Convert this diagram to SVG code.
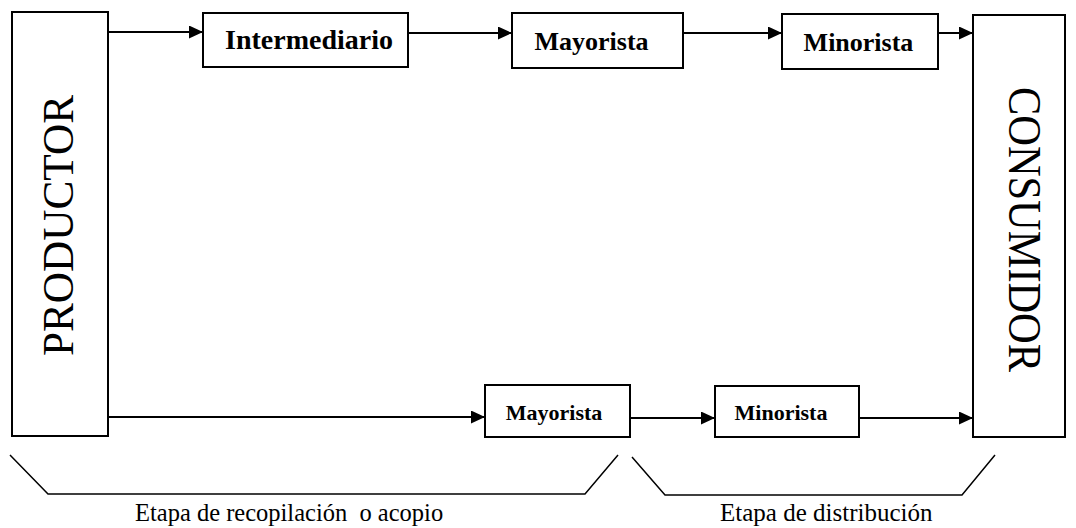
<svg xmlns="http://www.w3.org/2000/svg" width="1076" height="528" viewBox="0 0 1076 528">
<defs>
<style>
.box{fill:#fff;stroke:#000;stroke-width:2}
.lbl{font-weight:bold;fill:#000;text-anchor:middle}
.big{fill:#000;text-anchor:middle}
.cap{fill:#000}
.conn{stroke:#000;stroke-width:2;fill:none}
.brace{stroke:#000;stroke-width:1.5;fill:none}
</style>
<marker id="ah" markerUnits="userSpaceOnUse" markerWidth="15" markerHeight="13" refX="14" refY="6.5" orient="auto">
<path d="M0,0 L14,6.5 L0,13 z" fill="#000"/>
</marker>
</defs>
<rect width="1076" height="528" fill="#fff"/>
<g id="connectors">
<line class="conn" x1="108" y1="32" x2="203" y2="32" marker-end="url(#ah)"/>
<line class="conn" x1="408" y1="33" x2="512" y2="33" marker-end="url(#ah)"/>
<line class="conn" x1="683" y1="33" x2="782" y2="33" marker-end="url(#ah)"/>
<line class="conn" x1="938" y1="33" x2="973" y2="33" marker-end="url(#ah)"/>
<line class="conn" x1="108" y1="417" x2="485" y2="417" marker-end="url(#ah)"/>
<line class="conn" x1="630" y1="418" x2="715" y2="418" marker-end="url(#ah)"/>
<line class="conn" x1="859" y1="418" x2="973" y2="418" marker-end="url(#ah)"/>
</g>
<g font-family="Liberation Serif, Times New Roman, serif">
<g id="productor">
<rect class="box" x="12" y="12" width="96" height="424"/>
<text class="big" font-size="44" transform="translate(73,225.5) rotate(-90)" textLength="261" lengthAdjust="spacingAndGlyphs">PRODUCTOR</text>
</g>
<g id="intermediario">
<rect class="box" x="203" y="13" width="205" height="54"/>
<text class="lbl" font-size="28" x="309" y="49">Intermediario</text>
</g>
<g id="mayorista-top">
<rect class="box" x="512" y="13" width="171" height="55"/>
<text class="lbl" font-size="26" x="591.5" y="50">Mayorista</text>
</g>
<g id="minorista-top">
<rect class="box" x="782" y="14" width="156" height="55"/>
<text class="lbl" font-size="26" x="858.5" y="51">Minorista</text>
</g>
<g id="consumidor">
<rect class="box" x="973" y="15" width="92" height="422"/>
<text class="big" font-size="46" transform="translate(1009,229.5) rotate(90)" textLength="285" lengthAdjust="spacingAndGlyphs">CONSUMIDOR</text>
</g>
<g id="mayorista-bottom">
<rect class="box" x="485" y="385" width="145" height="52"/>
<text class="lbl" font-size="22" x="554" y="420">Mayorista</text>
</g>
<g id="minorista-bottom">
<rect class="box" x="715" y="386" width="144" height="51"/>
<text class="lbl" font-size="22" x="781" y="420">Minorista</text>
</g>
<text class="cap" font-size="24.5" x="135" y="521" xml:space="preserve">Etapa de recopilación  o acopio</text>
<text class="cap" font-size="25" x="720" y="521">Etapa de distribución</text>
</g>
<g id="braces">
<polyline class="brace" points="10,455 48,494 585,494 618,455"/>
<polyline class="brace" points="632,457 665,495 962,495 995,455"/>
</g>
</svg>
